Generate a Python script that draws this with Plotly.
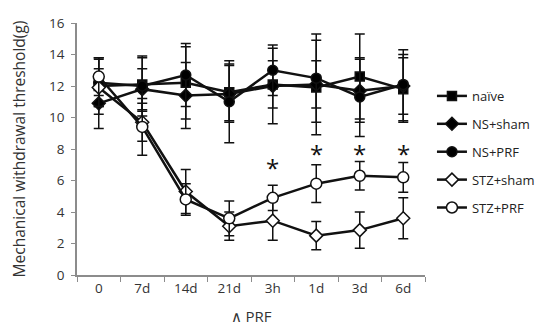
import plotly.graph_objects as go

categories = ["0", "7d", "14d", "21d", "3h", "1d", "3d", "6d"]

naive_mean = [12.0, 12.1, 12.2, 11.6, 12.1, 11.9, 12.6, 11.8]
naive_err = [1.8, 1.7, 2.3, 1.8, 1.5, 3.0, 2.7, 2.0]

ns_sham_mean = [10.9, 11.8, 11.4, 11.5, 12.0, 12.1, 11.7, 12.0]
ns_sham_err = [1.6, 1.3, 2.1, 1.8, 2.4, 1.5, 2.0, 2.3]

ns_prf_mean = [12.2, 12.0, 12.7, 11.0, 13.0, 12.5, 11.3, 12.1]
ns_prf_err = [1.5, 1.9, 2.0, 2.6, 1.6, 2.8, 2.5, 1.9]

stz_sham_mean = [11.9, 9.7, 5.3, 3.1, 3.45, 2.5, 2.85, 3.6]
stz_sham_err = [1.2, 1.2, 1.4, 0.9, 1.25, 0.9, 1.15, 1.3]

stz_prf_mean = [12.6, 9.4, 4.8, 3.6, 4.9, 5.8, 6.3, 6.2]
stz_prf_err = [1.2, 1.8, 1.0, 1.1, 0.8, 1.2, 0.9, 0.95]

sig_labels = ["", "", "", "", "*", "*", "*", "*"]
sig_y = [None, None, None, None, 6.8, 7.7, 7.7, 7.7]

series = [
    ("naïve", naive_mean, naive_err, "square", "black", 9),
    ("NS+sham", ns_sham_mean, ns_sham_err, "diamond", "black", 10),
    ("NS+PRF", ns_prf_mean, ns_prf_err, "circle", "black", 10),
    ("STZ+sham", stz_sham_mean, stz_sham_err, "diamond", "white", 10),
    ("STZ+PRF", stz_prf_mean, stz_prf_err, "circle", "white", 11),
]

fig = go.Figure()
for i, (name, m, e, sym, fill, size) in enumerate(series):
    fig.add_trace(go.Scatter(
        x=categories, y=m, name=name, mode="lines+markers",
        legendgroup=f"g{i}",
        line=dict(color="#111111", width=2.5),
        marker=dict(symbol=sym, size=size, color=fill,
                    line=dict(color="#111111", width=1.5)),
        error_y=dict(type="data", array=e, visible=True,
                     color="#111111", thickness=1.5, width=5),
    ))

for c, lab, yv in zip(categories, sig_labels, sig_y):
    if lab:
        fig.add_annotation(x=c, y=yv, text=lab, showarrow=False,
                           yanchor="middle",
                           font=dict(size=24, color="#111111", family="Open Sans"))

fig.update_layout(
    width=544, height=329,
    margin=dict(l=69, r=127, t=15, b=62, autoexpand=False),
    paper_bgcolor="white", plot_bgcolor="white",
    font=dict(family="Open Sans", color="#333333", size=13),
    legend=dict(x=1.02, y=0.77, xanchor="left", yanchor="top",
                tracegroupgap=8, font=dict(size=13, color="#222222"),
                bgcolor="rgba(0,0,0,0)"),
    showlegend=True,
)
fig.update_xaxes(
    type="category", range=[-0.5, 7.5], automargin=False,
    showline=True, linecolor="#8c8c8c", linewidth=1.5,
    ticks="outside", tickson="boundaries", ticklen=5, tickcolor="#8c8c8c",
    showgrid=False, zeroline=False,
    tickfont=dict(size=13.5, color="#333333"),
    title=dict(text="∧ PRF", font=dict(size=15, color="#333333"), standoff=16),
)
fig.update_yaxes(
    range=[0, 16], dtick=2, automargin=False,
    showline=True, linecolor="#8c8c8c", linewidth=1.5,
    ticks="outside", ticklen=4, tickcolor="#8c8c8c",
    showgrid=False, zeroline=False, ticklabelstandoff=4,
    tickfont=dict(size=13.5, color="#333333"),
    title=dict(text="Mechanical withdrawal threshold(g)",
               font=dict(size=15.5, color="#333333"), standoff=27),
)

fig.write_html("out.html")
